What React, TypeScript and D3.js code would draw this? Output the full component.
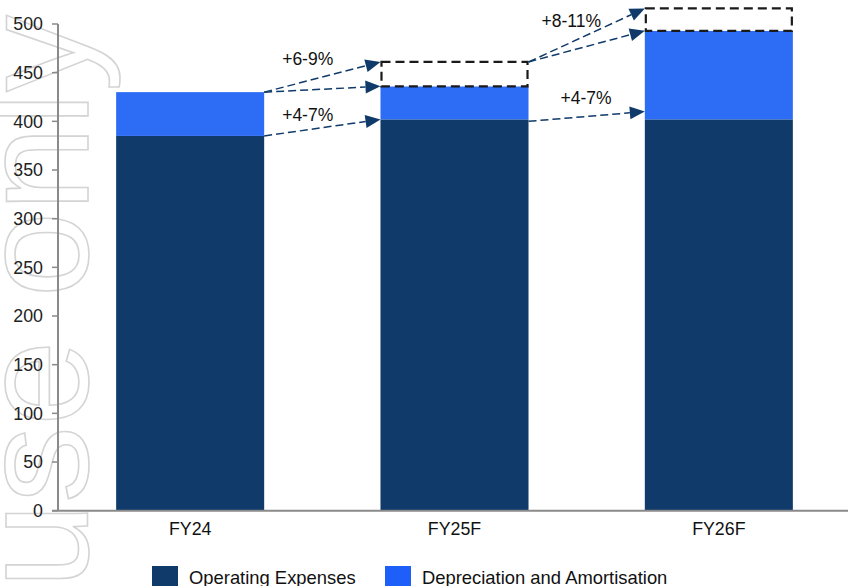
import React from "react";
import * as d3 from "d3";

const categories = ["FY24", "FY25F", "FY26F"];
const opexValues = [385, 402, 402];
const daValues = [45, 34, 91];
const rangeHigh: (number | null)[] = [null, 461, 516];
const yTicks = [0, 50, 100, 150, 200, 250, 300, 350, 400, 450, 500];
const seriesNames = ["Operating Expenses", "Depreciation and Amortisation"];

// arrows: from category index/value to category index/value
const arrows = [
  { from: 0, fromValue: 385, to: 1, toValue: 402 },
  { from: 0, fromValue: 430, to: 1, toValue: 436 },
  { from: 0, fromValue: 430, to: 1, toValue: 461 },
  { from: 1, fromValue: 400, to: 2, toValue: 410 },
  { from: 1, fromValue: 461, to: 2, toValue: 493 },
  { from: 1, fromValue: 461, to: 2, toValue: 516 },
];
const growthLabels = [
  { text: "+6-9%", after: 0, value: 458 },
  { text: "+4-7%", after: 0, value: 400 },
  { text: "+8-11%", after: 1, value: 497 },
  { text: "+4-7%", after: 1, value: 418 },
];
const labelOffsets = [18, 18, 13, 32];

const W = 848;
const H = 586;
const FONT = "'Liberation Sans', Arial, sans-serif";
const C_OPEX = "#0f3a69";
const C_DA = "#2d6cf4";
const C_DA_LEG = "#1e5ffa";
const C_AXIS = "#8a8a8a";
const C_ARROW = "#0f3a69";

export default function App() {
  const x = d3
    .scaleBand<string>()
    .domain(categories)
    .range([58, 851])
    .paddingInner(0.44)
    .paddingOuter(0.22);
  const y = d3.scaleLinear().domain([0, 500]).range([510.7, 24]);
  const bw = x.bandwidth();
  const axisX = 58;
  const y0 = y(0);

  return (
    <svg
      width={W}
      height={H}
      style={{ position: "absolute", left: 0, top: 0, background: "#fff" }}
      fontFamily={FONT}
    >
      <rect x={0} y={0} width={W} height={H} fill="#fff" />
      {/* watermark */}
      <text
        transform={`translate(88, 15) rotate(-90)`}
        textAnchor="end"
        fontSize={154}
        fill="none"
        stroke="#d4d4d4"
        strokeWidth={1.6}
        fontFamily={FONT}
      >
        use only
      </text>

      {/* bars */}
      {categories.map((c, i) => {
        const bx = x(c)!;
        const total = opexValues[i] + daValues[i];
        const hi = rangeHigh[i];
        return (
          <g key={c}>
            <rect x={bx} y={y(opexValues[i])} width={bw} height={y0 - y(opexValues[i])} fill={C_OPEX} />
            <rect x={bx} y={y(total)} width={bw} height={y(opexValues[i]) - y(total)} fill={C_DA} />
            {hi != null && (
              <rect
                x={bx + 1}
                y={y(hi)}
                width={bw - 2}
                height={y(total) - y(hi)}
                fill="#fff"
                stroke="#1a1a1a"
                strokeWidth={2.2}
                strokeDasharray="9,5"
              />
            )}
          </g>
        );
      })}

      {/* arrows */}
      {arrows.map((a, i) => {
        const x1 = x(categories[a.from])! + bw;
        const y1 = y(a.fromValue);
        const x2 = x(categories[a.to])!;
        const y2 = y(a.toValue);
        const ang = Math.atan2(y2 - y1, x2 - x1);
        const L = 15;
        const hw = 6.5;
        const bxp = x2 - L * Math.cos(ang);
        const byp = y2 - L * Math.sin(ang);
        const px = -Math.sin(ang);
        const py = Math.cos(ang);
        const pts = [
          [x2, y2],
          [bxp + px * hw, byp + py * hw],
          [bxp - px * hw, byp - py * hw],
        ];
        return (
          <g key={i}>
            <line
              x1={x1}
              y1={y1}
              x2={bxp}
              y2={byp}
              stroke={C_ARROW}
              strokeWidth={1.5}
              strokeDasharray="8,4"
            />
            <polygon points={pts.map((p) => p.join(",")).join(" ")} fill={C_ARROW} />
          </g>
        );
      })}

      {growthLabels.map((g, i) => (
        <text
          key={i}
          x={x(categories[g.after])! + bw + labelOffsets[i]}
          y={y(g.value)}
          fontSize={17.5}
          fill="#111"
        >
          {g.text}
        </text>
      ))}

      {/* y axis */}
      <line x1={axisX} x2={axisX} y1={y(500)} y2={y0} stroke={C_AXIS} strokeWidth={2} />
      {yTicks.map((t) => (
        <g key={t}>
          <line x1={axisX - 6} x2={axisX} y1={y(t)} y2={y(t)} stroke={C_AXIS} strokeWidth={1.5} />
          <text x={axisX - 15} y={y(t)} dy="0.36em" textAnchor="end" fontSize={17.8} fill="#222">
            {t}
          </text>
        </g>
      ))}
      {/* x axis */}
      <line x1={axisX - 6} x2={W} y1={y0} y2={y0} stroke={C_AXIS} strokeWidth={2} />
      {categories.map((c) => (
        <text key={c} x={x(c)! + bw / 2} y={535} textAnchor="middle" fontSize={17.8} fill="#111">
          {c}
        </text>
      ))}

      {/* legend */}
      {seriesNames.map((s, i) => {
        const lx = i === 0 ? 152 : 385;
        return (
          <g key={s}>
            <rect x={lx} y={566} width={26} height={22} fill={i === 0 ? C_OPEX : C_DA_LEG} />
            <text x={lx + 37} y={584} fontSize={18.4} fill="#111">
              {s}
            </text>
          </g>
        );
      })}
    </svg>
  );
}
